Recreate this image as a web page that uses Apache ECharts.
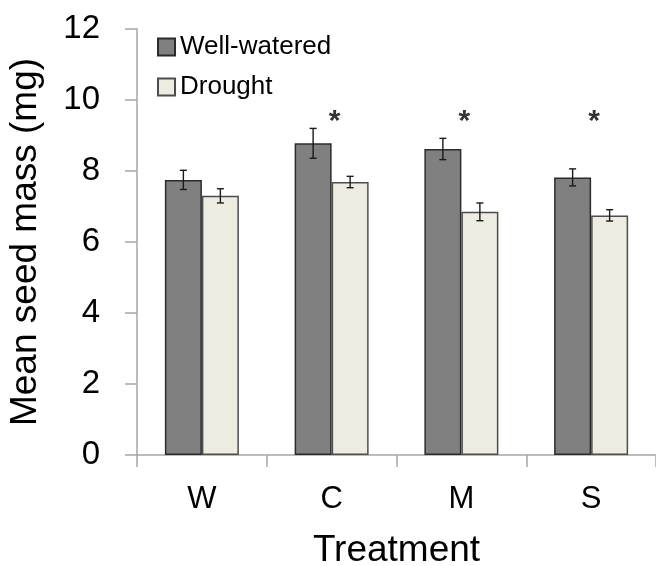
<!DOCTYPE html>
<html>
<head>
<meta charset="utf-8">
<script src="https://cdn.jsdelivr.net/npm/echarts@6/dist/echarts.min.js"></script>
<style>
  html, body { margin: 0; padding: 0; background: #fff; }
  #chart { width: 656px; height: 566px; }
</style>
</head>
<body>
<div id="chart"></div>
<script>
// Seed mass per treatment, means with standard errors (mg)
const treatments = ['W', 'C', 'M', 'S'];
const wellWatered = [7.75, 8.78, 8.62, 7.82];
const wellWateredErr = [0.27, 0.42, 0.30, 0.24];
const drought = [7.30, 7.69, 6.85, 6.75];
const droughtErr = [0.20, 0.16, 0.25, 0.16];
const significance = ['', '*', '*', '*'];
const yTicks = [0, 2, 4, 6, 8, 10, 12];

const FONT = "'Liberation Sans', Arial, sans-serif";
const BAR_W = 37;
const STAR_LEVEL = 9.4;
const AXIS_GREY = '#a6a6a6';

const chart = echarts.init(document.getElementById('chart'), null, { renderer: 'canvas' });

// Error bar whiskers drawn beside each bar (offset = which bar of the pair)
function errorSeries(means, errs, offset) {
  return {
    type: 'custom',
    z: 10,
    silent: true,
    data: means.map((m, i) => [i, m, errs[i]]),
    renderItem: function (params, api) {
      const i = api.value(0), m = api.value(1), e = api.value(2);
      const hi = api.coord([i, m + e]);
      const lo = api.coord([i, m - e]);
      const x = hi[0] + offset * BAR_W / 2;
      const cap = 3.5;
      const style = { stroke: '#1a1a1a', lineWidth: 1.4 };
      return {
        type: 'group',
        children: [
          { type: 'line', shape: { x1: x, y1: hi[1], x2: x, y2: lo[1] }, style },
          { type: 'line', shape: { x1: x - cap, y1: hi[1], x2: x + cap, y2: hi[1] }, style },
          { type: 'line', shape: { x1: x - cap, y1: lo[1], x2: x + cap, y2: lo[1] }, style }
        ]
      };
    }
  };
}

chart.setOption({
  animation: false,
  textStyle: { fontFamily: FONT, color: '#000' },
  grid: { left: 137, right: 0, top: 29, bottom: 111, containLabel: false, outerBoundsMode: 'none' },
  legend: {
    orient: 'vertical',
    left: 152,
    top: 29,
    itemWidth: 17,
    itemHeight: 17,
    itemGap: 14,
    icon: 'rect',
    textStyle: { fontFamily: FONT, fontSize: 26, color: '#000' },
    data: ['Well-watered', 'Drought']
  },
  xAxis: {
    type: 'category',
    data: treatments,
    boundaryGap: true,
    axisLine: { lineStyle: { color: AXIS_GREY, width: 1.5 } },
    axisTick: { show: true, length: 12, alignWithLabel: false, lineStyle: { color: AXIS_GREY, width: 1.5 } },
    axisLabel: { fontFamily: FONT, fontSize: 31, color: '#000', margin: 29 },
    name: 'Treatment',
    nameLocation: 'middle',
    nameGap: 77,
    nameTextStyle: { fontFamily: FONT, fontSize: 37, color: '#000' }
  },
  yAxis: {
    type: 'value',
    min: yTicks[0],
    max: yTicks[yTicks.length - 1],
    interval: 2,
    splitLine: { show: false },
    axisLine: { show: true, lineStyle: { color: AXIS_GREY, width: 1.5 } },
    axisTick: { show: true, inside: false, length: 12, lineStyle: { color: AXIS_GREY, width: 1.5 } },
    axisLabel: { fontFamily: FONT, fontSize: 33, color: '#000', margin: 37 },
    name: 'Mean seed mass (mg)',
    nameLocation: 'middle',
    nameRotate: 90,
    nameGap: 93,
    nameTextStyle: { fontFamily: FONT, fontSize: 37, color: '#000' }
  },
  series: [
    {
      name: 'Well-watered',
      type: 'bar',
      barWidth: BAR_W,
      barGap: '0%',
      data: wellWatered,
      itemStyle: { color: '#808080', borderColor: '#2b2b2b', borderWidth: 1.5 }
    },
    {
      name: 'Drought',
      type: 'bar',
      barWidth: BAR_W,
      barGap: '0%',
      data: drought,
      itemStyle: { color: '#eeebe0', borderColor: '#4d4d4d', borderWidth: 1.5 }
    },
    errorSeries(wellWatered, wellWateredErr, -1),
    errorSeries(drought, droughtErr, 1),
    {
      type: 'scatter',
      symbolSize: 2,
      itemStyle: { color: 'rgba(0,0,0,0)' },
      silent: true,
      z: 12,
      data: significance.map((s, i) => [i, STAR_LEVEL, s]),
      label: {
        show: true,
        position: 'inside',
        offset: [3, 0],
        formatter: p => p.value[2],
        fontFamily: FONT,
        fontSize: 30,
        fontWeight: 'bold',
        color: '#000'
      }
    }
  ]
});
</script>
</body>
</html>
